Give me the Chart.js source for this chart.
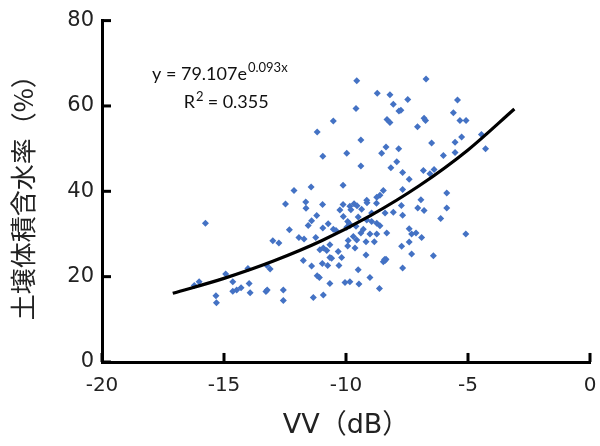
<!DOCTYPE html>
<html>
<head>
    <title>VV vs soil moisture</title>
    <script src="https://cdn.jsdelivr.net/npm/chart.js"></script>
    <style>
        body { margin: 0; background: #fff; }
        #wrap { width: 600px; height: 446px; }
    </style>
</head>
<body>
    <div id="wrap"><canvas id="scatterChart" width="600" height="446"></canvas></div>
    <script>
        // 散布点 (VV dB, 含水率 %)
        const vvX = [
            -9.56, -6.72, -8.72, -8.20, -8.06, -7.47, -5.43, -9.59, -10.52, -8.32,
            -8.20, -7.83, -7.75, -6.80, -6.74, -7.07, -5.60, -5.33, -5.08, -11.18,
            -9.39, -6.49, -5.53, -5.26, -4.45, -4.28, -10.95, -9.97, -8.54, -8.36,
            -7.84, -6.01, -5.53, -9.39, -7.92, -8.16, -7.68, -6.83, -6.56, -6.39,
            -7.41, -12.13, -11.43, -10.12, -7.68, -5.87, -8.47, -8.61, -8.74, -12.48,
            -11.65, -11.64, -10.96, -10.25, -10.12, -9.84, -9.67, -9.55, -9.15, -9.14,
            -8.75, -6.93, -7.06, -6.80, -5.87, -6.12, -7.73, -8.40, -8.06, -7.68,
            -9.36, -9.80, -8.95, -10.11, -9.50, -11.20, -11.41, -11.55, -10.73, -10.95,
            -10.52, -10.41, -9.93, -9.86, -9.84, -9.97, -9.59, -9.15, -8.95, -8.74,
            -9.29, -8.61, -8.33, -9.39, -9.02, -8.74, -9.70, -9.56, -9.91, -11.24,
            -12.32, -11.93, -11.72, -13.00, -12.75, -9.18, -8.84, -9.93, -10.66, -11.07,
            -10.93, -10.79, -10.32, -9.63, -9.18, -11.75, -10.66, -10.59, -10.18, -10.97,
            -10.75, -10.29, -11.41, -8.47, -8.36, -8.40, -8.42, -9.50, -11.18, -11.09,
            -9.02, -10.66, -10.04, -9.84, -9.47, -8.63, -12.57, -10.93, -11.34, -12.57,
            -7.41, -7.31, -7.13, -6.90, -7.41, -7.72, -7.31, -6.42, -5.09, -7.68,
            -15.76, -16.22, -16.02, -14.93, -14.02, -14.64, -13.97, -13.25, -13.11, -14.64,
            -14.48, -14.30, -13.93, -13.28, -13.23, -15.33, -15.31
        ];
        const moisture = [
            65.9, 66.3, 63.0, 62.6, 60.4, 61.5, 61.4, 59.4, 56.5, 56.8,
            56.1, 58.8, 59.0, 57.1, 56.6, 55.1, 58.4, 56.6, 56.6, 53.9,
            52.0, 51.3, 51.5, 52.7, 53.3, 50.0, 48.2, 48.9, 48.9, 50.4,
            50.0, 48.4, 49.1, 45.9, 46.9, 45.5, 44.4, 44.9, 44.1, 45.1,
            42.8, 40.2, 41.0, 41.4, 40.4, 39.6, 40.2, 39.1, 38.6, 37.0,
            37.5, 36.0, 36.9, 35.6, 36.9, 36.5, 37.1, 36.6, 37.9, 37.3,
            37.2, 38.0, 36.1, 35.5, 36.1, 33.6, 36.7, 34.9, 35.1, 34.4,
            35.8, 35.7, 34.9, 34.1, 34.0, 34.3, 33.1, 32.0, 32.4, 31.4,
            31.1, 30.8, 32.9, 32.4, 31.9, 31.6, 31.8, 33.3, 32.9, 32.5,
            31.1, 31.9, 30.2, 30.2, 30.0, 30.0, 29.4, 28.6, 28.5, 29.2,
            31.0, 29.2, 28.8, 28.4, 27.9, 28.2, 28.2, 27.2, 27.5, 26.3,
            26.7, 26.1, 25.9, 26.7, 25.1, 23.8, 24.5, 24.3, 24.5, 23.1,
            22.6, 22.6, 22.5, 23.5, 24.1, 23.8, 24.0, 21.6, 20.2, 19.8,
            19.8, 18.4, 18.6, 18.8, 18.3, 17.2, 16.9, 15.7, 15.1, 14.4,
            31.2, 30.0, 30.2, 29.2, 28.1, 27.1, 25.3, 24.9, 30.0, 22.0,
            32.5, 17.9, 18.8, 20.6, 21.9, 18.8, 18.4, 22.7, 21.8, 16.6,
            16.9, 17.4, 16.2, 16.5, 16.9, 15.5, 13.9
        ];

        // 近似曲線 (読み取り値)
        const trendX = [-17.1, -15, -13, -11, -9, -7, -5, -3.1];
        const trendY = [16.1, 19.6, 23.6, 28.4, 34.3, 41.3, 49.7, 59.3];

        const xTicks = [-20, -15, -10, -5, 0];
        const yTicks = [0, 20, 40, 60, 80];
        const eqText = 'y = 79.107e';
        const eqPower = '0.093x';
        const r2Text = '0.355';

        const points = vvX.map((v, i) => ({ x: v, y: moisture[i] }));
        const curve = trendX.map((v, i) => ({ x: v, y: trendY[i] }));

        // 内向きの目盛り線 (軸の単位で約9px)
        const xTickLen = 80 * 9 / 340;
        const yTickLen = 20 * 9 / 488;
        const tickSets = [];
        xTicks.forEach(t => tickSets.push([{ x: t, y: 0 }, { x: t, y: xTickLen }]));
        yTicks.forEach(t => tickSets.push([{ x: -20, y: t }, { x: -20 + yTickLen, y: t }]));
        const tickDatasets = tickSets.map(d => ({
            type: 'line',
            data: d,
            borderColor: '#000',
            borderWidth: 3,
            borderCapStyle: 'butt',
            pointRadius: 0,
            clip: false,
            order: 0
        }));

        // 数式
        const eqLabel = {
            id: 'eqLabel',
            afterDatasetsDraw(chart) {
                const c = chart.ctx;
                const xs = chart.scales.x, ys = chart.scales.y;
                c.save();
                c.fillStyle = '#111';
                c.textBaseline = 'alphabetic';
                c.textAlign = 'left';
                c.font = '18px Lato, "Open Sans", sans-serif';
                const ex = xs.getPixelForValue(-17.95);
                const ey = ys.getPixelForValue(66.1);
                c.fillText(eqText, ex, ey);
                const w = c.measureText(eqText).width;
                c.font = '13px Lato, "Open Sans", sans-serif';
                c.fillText(eqPower, ex + w + 1, ey - 8);

                c.font = '18px Lato, "Open Sans", sans-serif';
                const rx = xs.getPixelForValue(-16.65);
                const ry = ys.getPixelForValue(59.5);
                c.fillText('R', rx, ry);
                const rw = c.measureText('R').width;
                c.font = '13px Lato, "Open Sans", sans-serif';
                c.fillText('2', rx + rw + 1, ry - 7);
                c.font = '18px Lato, "Open Sans", sans-serif';
                c.fillText(' = ' + r2Text, rx + rw + 8, ry);
                c.restore();
            }
        };

        const ctx = document.getElementById('scatterChart').getContext('2d');
        const chart = new Chart(ctx, {
            type: 'scatter',
            data: {
                datasets: [{
                    label: '測定値',
                    data: points,
                    pointStyle: 'rectRot',
                    pointRadius: 3.5,
                    backgroundColor: '#4472C4',
                    borderColor: '#4472C4',
                    borderWidth: 0,
                    order: 2
                },
                {
                    label: '近似曲線',
                    type: 'line',
                    data: curve,
                    borderColor: '#000',
                    borderWidth: 3.2,
                    pointRadius: 0,
                    cubicInterpolationMode: 'monotone',
                    fill: false,
                    order: 1
                }].concat(tickDatasets)
            },
            options: {
                responsive: false,
                animation: false,
                layout: {
                    padding: { top: 20, right: 10, left: 0, bottom: 0 }
                },
                plugins: {
                    legend: { display: false },
                    tooltip: { enabled: false }
                },
                scales: {
                    x: {
                        type: 'linear',
                        min: -20,
                        max: 0,
                        afterBuildTicks: s => { s.ticks = xTicks.map(v => ({ value: v })); },
                        afterFit: s => { s.height = 84; s.paddingRight = 0; s.paddingLeft = 0; },
                        grid: { display: false, drawTicks: false },
                        border: { display: true, color: '#000', width: 3 },
                        ticks: {
                            color: '#222',
                            padding: 12,
                            font: { family: '"DejaVu Sans", Verdana, sans-serif', size: 20 }
                        },
                        title: {
                            display: true,
                            text: 'VV（dB）',
                            color: '#222',
                            padding: { top: 8 },
                            font: { family: '"DejaVu Sans", "Noto Sans CJK JP", sans-serif', size: 27 }
                        }
                    },
                    y: {
                        min: 0,
                        max: 80,
                        afterBuildTicks: s => { s.ticks = yTicks.map(v => ({ value: v })); },
                        afterFit: s => { s.width = 102; },
                        grid: { display: false, drawTicks: false },
                        border: { display: true, color: '#000', width: 3 },
                        ticks: {
                            color: '#222',
                            padding: 8,
                            font: { family: '"DejaVu Sans", Verdana, sans-serif', size: 21 }
                        },
                        title: {
                            display: true,
                            text: '土壌体積含水率（%）',
                            color: '#222',
                            padding: { top: 8, bottom: 0 },
                            font: { family: '"Noto Sans CJK JP", sans-serif', size: 26 }
                        }
                    }
                }
            },
            plugins: [eqLabel]
        });
    </script>
</body>
</html>
